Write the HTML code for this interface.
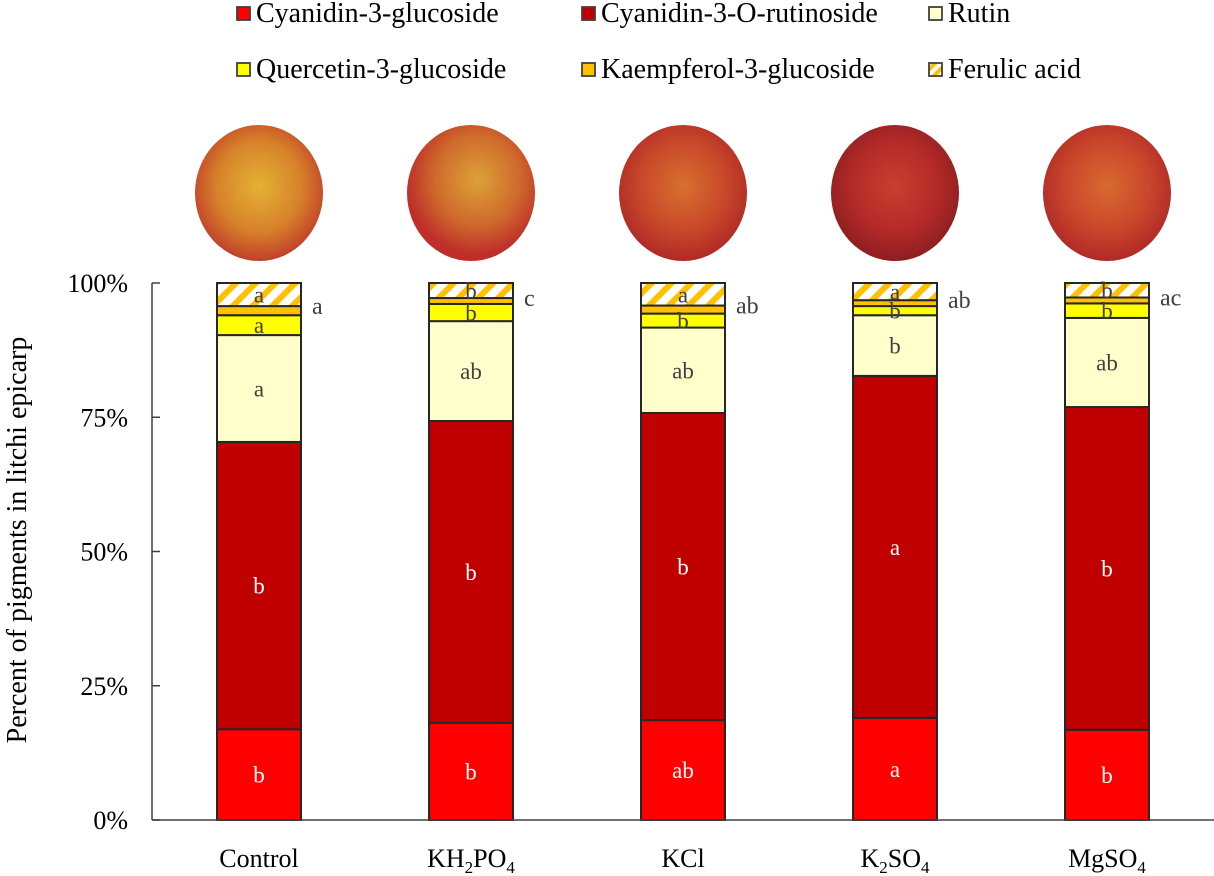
<!DOCTYPE html>
<html><head><meta charset="utf-8">
<style>
html,body{margin:0;padding:0;background:#fff;}
svg{display:block;font-family:"Liberation Serif",serif;}
</style></head>
<body>
<svg id="chart" width="1214" height="876" viewBox="0 0 1214 876" xmlns="http://www.w3.org/2000/svg">
<defs>
<pattern id="hatch" patternUnits="userSpaceOnUse" width="14" height="14" patternTransform="rotate(45)">
<rect width="14" height="14" fill="#fff"/><rect width="6" height="14" fill="#ffc000"/>
</pattern>
<pattern id="hatchS" patternUnits="userSpaceOnUse" width="8" height="8" patternTransform="rotate(45)">
<rect width="8" height="8" fill="#fff"/><rect width="4" height="8" fill="#ffc000"/>
</pattern>
<radialGradient id="g0" cx="50%" cy="45%" r="55%"><stop offset="0" stop-color="#e4b234"/><stop offset="0.6" stop-color="#d7822a"/><stop offset="1" stop-color="#c2402a"/></radialGradient>
<radialGradient id="g1" cx="55%" cy="40%" r="55%"><stop offset="0" stop-color="#dca238"/><stop offset="0.6" stop-color="#cf6a2c"/><stop offset="1" stop-color="#bf2f2a"/></radialGradient>
<radialGradient id="g2" cx="50%" cy="45%" r="55%"><stop offset="0" stop-color="#d8702e"/><stop offset="0.6" stop-color="#c8482a"/><stop offset="1" stop-color="#b02a26"/></radialGradient>
<radialGradient id="g3" cx="50%" cy="45%" r="55%"><stop offset="0" stop-color="#c8402e"/><stop offset="0.6" stop-color="#b42a28"/><stop offset="1" stop-color="#8e1e20"/></radialGradient>
<radialGradient id="g4" cx="50%" cy="45%" r="55%"><stop offset="0" stop-color="#d86a30"/><stop offset="0.6" stop-color="#c9462b"/><stop offset="1" stop-color="#b02a26"/></radialGradient>
</defs>
<g id="fruits"></g>
<g id="legend"></g>
<g id="bars"></g>
<g id="axes"></g>
</svg>
<script>
const categories = ["Control","KH2PO4","KCl","K2SO4","MgSO4"];
const seriesNames = ["Cyanidin-3-glucoside","Cyanidin-3-O-rutinoside","Rutin","Quercetin-3-glucoside","Kaempferol-3-glucoside","Ferulic acid"];
const c3g   = [16.9, 18.1, 18.6, 19.0, 16.8];
const c3or  = [53.5, 56.2, 57.2, 63.7, 60.1];
const rutin = [19.9, 18.6, 15.9, 11.3, 16.6];
const q3g   = [3.7, 3.2, 2.6, 1.7, 2.7];
const k3g   = [1.7, 1.1, 1.5, 1.1, 1.1];
const ferulic = [4.3, 2.8, 4.2, 3.2, 2.7];
const yTicks = [0,25,50,75,100];
const letC3g = ["b","b","ab","a","b"];
const letC3or = ["b","b","b","a","b"];
const letRutin = ["a","ab","ab","b","ab"];
const letQ3g = ["a","b","b","b","b"];
const letFer = ["a","b","a","a","b"];
const letSide = ["a","c","ab","ab","ac"];

const NS="http://www.w3.org/2000/svg";
function mk(tag, attrs, parent){const e=document.createElementNS(NS,tag);for(const k in attrs)e.setAttribute(k,attrs[k]);parent.appendChild(e);return e;}
const y0=820, y1=283, xAxis0=152, slot=212, firstX=259, barW=84;
const yScale=v=>y0-(v/100)*(y0-y1);
const xScale=i=>firstX+i*slot;
const fills=["#ff0000","#c00000","#ffffcc","#ffff00","#ffc000","url(#hatch)"];
const allSeries=[c3g,c3or,rutin,q3g,k3g,ferulic];
const gBars=document.getElementById('bars');
const gAxes=document.getElementById('axes');
const gLeg=document.getElementById('legend');
const gFr=document.getElementById('fruits');

categories.forEach((c,i)=>{
  const cx=xScale(i);
  const f=mk('ellipse',{cx:cx,cy:193,rx:64,ry:68,fill:'url(#g'+i+')'},gFr);
  
  
});

categories.forEach((c,i)=>{
  let cum=0;
  const cx=xScale(i);
  allSeries.forEach((s,k)=>{
    const v=s[i];
    const yt=yScale(cum+v), yb=yScale(cum);
    const r=mk('rect',{x:cx-barW/2,y:yt,width:barW,height:yb-yt,fill:fills[k],stroke:'#262626','stroke-width':2},gBars);
    
    
    cum+=v;
  });
  function lab(txt,val,col){const t=mk('text',{x:cx,y:yScale(val)+8,'text-anchor':'middle','font-size':23,fill:col},gBars);t.textContent=txt;
    
    }
  lab(letC3g[i],c3g[i]/2,'#fff');
  lab(letC3or[i],c3g[i]+c3or[i]/2,'#fff');
  lab(letRutin[i],c3g[i]+c3or[i]+rutin[i]/2,'#404040');
  const b4=c3g[i]+c3or[i]+rutin[i];
  lab(letQ3g[i],b4+q3g[i]/2,'#404040');
  lab(letFer[i],100-ferulic[i]/2,'#404040');
  const s=mk('text',{x:cx+53,y:yScale(b4+q3g[i]+k3g[i])+8,'font-size':24,fill:'#404040'},gBars);
  s.textContent=letSide[i];
  
  
  const xl=mk('text',{x:cx,y:867,'text-anchor':'middle','font-size':26,fill:'#000'},gAxes);
  
  
  if(c==="KH2PO4"){xl.innerHTML='KH<tspan font-size="17" dy="6">2</tspan><tspan dy="-6">PO</tspan><tspan font-size="17" dy="6">4</tspan>';}
  else if(c==="K2SO4"){xl.innerHTML='K<tspan font-size="17" dy="6">2</tspan><tspan dy="-6">SO</tspan><tspan font-size="17" dy="6">4</tspan>';}
  else if(c==="MgSO4"){xl.innerHTML='MgSO<tspan font-size="17" dy="6">4</tspan>';}
  else xl.textContent=c;
});

const ya=mk('line',{x1:xAxis0,y1:y1,x2:xAxis0,y2:y0,stroke:'#404040','stroke-width':1.5},gAxes);


const xa=mk('line',{x1:xAxis0,y1:y0,x2:1214,y2:y0,stroke:'#404040','stroke-width':1.5},gAxes);


yTicks.forEach(v=>{
  mk('line',{x1:xAxis0,y1:yScale(v),x2:xAxis0+8,y2:yScale(v),stroke:'#404040','stroke-width':1.5},gAxes);
  const t=mk('text',{x:128,y:yScale(v)+9,'text-anchor':'end','font-size':26,fill:'#000'},gAxes);
  t.textContent=v+'%';
  
  
});
const yt=mk('text',{x:0,y:0,'text-anchor':'middle','font-size':28,fill:'#000',transform:'translate(26,540) rotate(-90)'},gAxes);
yt.textContent='Percent of pigments in litchi epicarp';



const legPos=[[243,13],[588,13],[935,13],[243,69],[588,69],[935,69]];
seriesNames.forEach((n,k)=>{
  const [lx,ly]=legPos[k];
  const g=mk('g',{},gLeg);
  
  
  mk('rect',{x:lx-6,y:ly-6,width:13,height:13,fill:fills[k]==='url(#hatch)'?'url(#hatchS)':fills[k],stroke:'#404040','stroke-width':1.8},g);
  const t=mk('text',{x:lx+13,y:ly+9,'font-size':28,fill:'#000'},g);
  t.textContent=n;
});
</script>
</body></html>
